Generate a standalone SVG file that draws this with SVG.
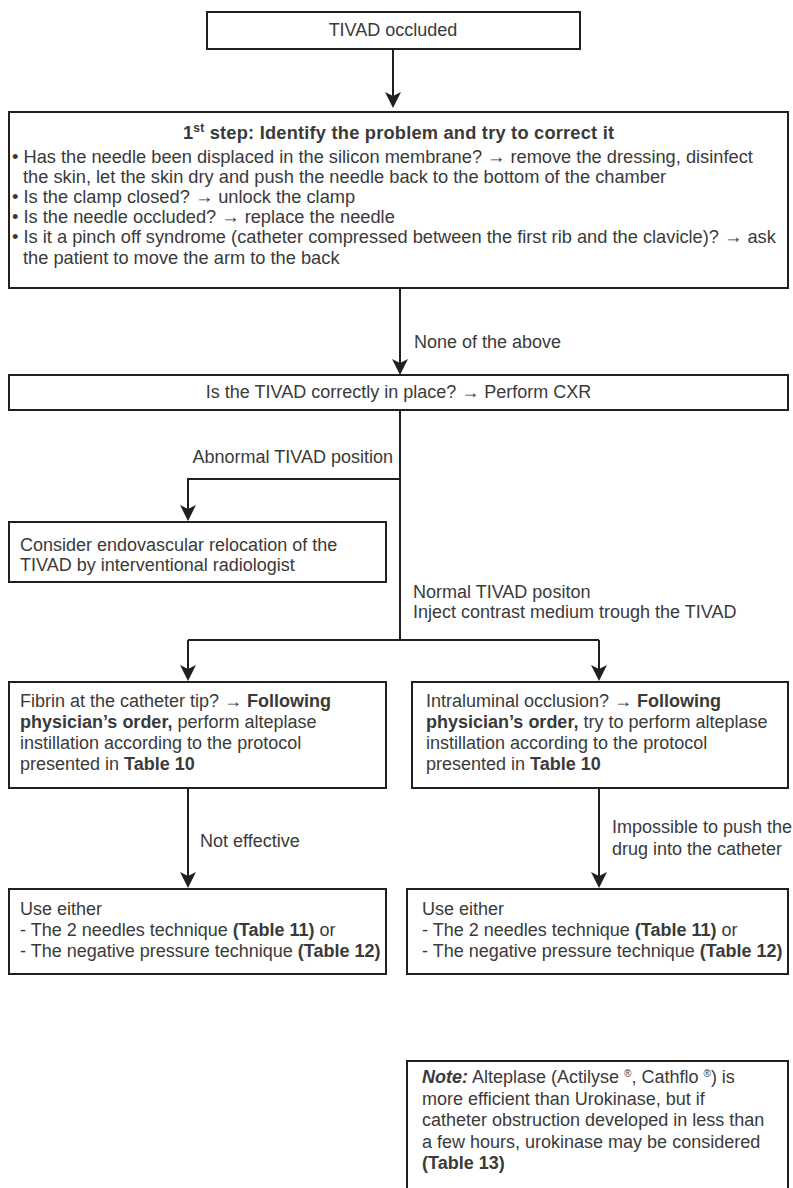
<svg xmlns="http://www.w3.org/2000/svg" width="793" height="1188" viewBox="0 0 793 1188">
<defs>
<marker id="ah" viewBox="0 -8 16 16" refX="11" refY="0" markerWidth="16" markerHeight="16" markerUnits="userSpaceOnUse" orient="auto">
<path d="M0,-8 L16,0 L0,8 L4,0 Z" fill="#231f20"/>
</marker>
</defs>
<style>
.box{fill:#fff;stroke:#231f20;stroke-width:2}
.ln{fill:none;stroke:#231f20;stroke-width:2}
text{font-family:"Liberation Sans",Arial,sans-serif;font-size:18px;fill:#3a3a3a}
.b{font-weight:bold}
.m{text-anchor:middle}
.e{text-anchor:end}
.s1 text{font-size:18.25px}
</style>
<rect width="793" height="1188" fill="#fff"/>

<g id="connectors">
<path class="ln" d="M393,49 V103" marker-end="url(#ah)"/>
<path class="ln" d="M400,288 V370" marker-end="url(#ah)"/>
<path class="ln" d="M400,410 V640"/>
<path class="ln" d="M400,479 H188 V516" marker-end="url(#ah)"/>
<path class="ln" d="M188,640 H599"/>
<path class="ln" d="M188,640 V676" marker-end="url(#ah)"/>
<path class="ln" d="M599,640 V676" marker-end="url(#ah)"/>
<path class="ln" d="M188,788 V883" marker-end="url(#ah)"/>
<path class="ln" d="M599,788 V883" marker-end="url(#ah)"/>
<text x="414" y="348">None of the above</text>
<text class="e" x="393" y="463">Abnormal TIVAD position</text>
<text x="413" y="598">Normal TIVAD positon</text>
<text x="413" y="618">Inject contrast medium trough the TIVAD</text>
<text x="200" y="847">Not effective</text>
<text x="612" y="833">Impossible to push the</text>
<text x="612" y="855">drug into the catheter</text>
</g>

<g id="n-occluded">
<rect class="box" x="207" y="12" width="373" height="37"/>
<text class="m" x="393" y="36">TIVAD occluded</text>
</g>

<g id="n-step1" class="s1">
<rect class="box" x="9" y="112" width="779" height="176"/>
<text class="m b" x="398.5" y="139" textLength="431" lengthAdjust="spacing">1<tspan dy="-7" font-size="12">st</tspan><tspan dy="7"> step: Identify the problem and try to correct it</tspan></text>
<text x="12" y="163">• Has the needle been displaced in the silicon membrane? → remove the dressing, disinfect</text>
<text x="23" y="183">the skin, let the skin dry and push the needle back to the bottom of the chamber</text>
<text x="12" y="203">• Is the clamp closed? → unlock the clamp</text>
<text x="12" y="223">• Is the needle occluded? → replace the needle</text>
<text x="12" y="243">• Is it a pinch off syndrome (catheter compressed between the first rib and the clavicle)? → ask</text>
<text x="23" y="263.5">the patient to move the arm to the back</text>
</g>

<g id="n-cxr">
<rect class="box" x="9" y="375" width="779" height="35"/>
<text class="m" x="398.5" y="398">Is the TIVAD correctly in place? → Perform CXR</text>
</g>

<g id="n-relocation">
<rect class="box" x="9" y="522" width="377" height="60"/>
<text x="20" y="551">Consider endovascular relocation of the</text>
<text x="20" y="571">TIVAD by interventional radiologist</text>
</g>

<g id="n-fibrin">
<rect class="box" x="9" y="682" width="377" height="106"/>
<text x="20" y="707">Fibrin at the catheter tip? → <tspan class="b">Following</tspan></text>
<text x="20" y="728"><tspan class="b">physician’s order,</tspan> perform alteplase</text>
<text x="20" y="749">instillation according to the protocol</text>
<text x="20" y="770">presented in <tspan class="b">Table 10</tspan></text>
</g>

<g id="n-intraluminal">
<rect class="box" x="412" y="682" width="376" height="106"/>
<text x="426" y="707">Intraluminal occlusion? → <tspan class="b">Following</tspan></text>
<text x="426" y="728"><tspan class="b">physician’s order,</tspan> try to perform alteplase</text>
<text x="426" y="749">instillation according to the protocol</text>
<text x="426" y="770">presented in <tspan class="b">Table 10</tspan></text>
</g>

<g id="n-either-left">
<rect class="box" x="9" y="889" width="377" height="85"/>
<text x="20" y="915">Use either</text>
<text x="20" y="936">- The 2 needles technique <tspan class="b">(Table 11)</tspan> or</text>
<text x="20" y="957">- The negative pressure technique <tspan class="b">(Table 12)</tspan></text>
</g>

<g id="n-either-right">
<rect class="box" x="407" y="889" width="381" height="85"/>
<text x="422" y="915">Use either</text>
<text x="422" y="936">- The 2 needles technique <tspan class="b">(Table 11)</tspan> or</text>
<text x="422" y="957">- The negative pressure technique <tspan class="b">(Table 12)</tspan></text>
</g>

<g id="n-note">
<rect class="box" x="407" y="1061" width="381" height="160"/>
<text x="422" y="1083"><tspan class="b" font-style="italic">Note:</tspan> Alteplase (Actilyse <tspan dy="-6" font-size="10">®</tspan><tspan dy="6">, Cathflo </tspan><tspan dy="-6" font-size="10">®</tspan><tspan dy="6">) is</tspan></text>
<text x="422" y="1104.5">more efficient than Urokinase, but if</text>
<text x="422" y="1126">catheter obstruction developed in less than</text>
<text x="422" y="1147.5">a few hours, urokinase may be considered</text>
<text x="422" y="1169" class="b">(Table 13)</text>
</g>
</svg>
